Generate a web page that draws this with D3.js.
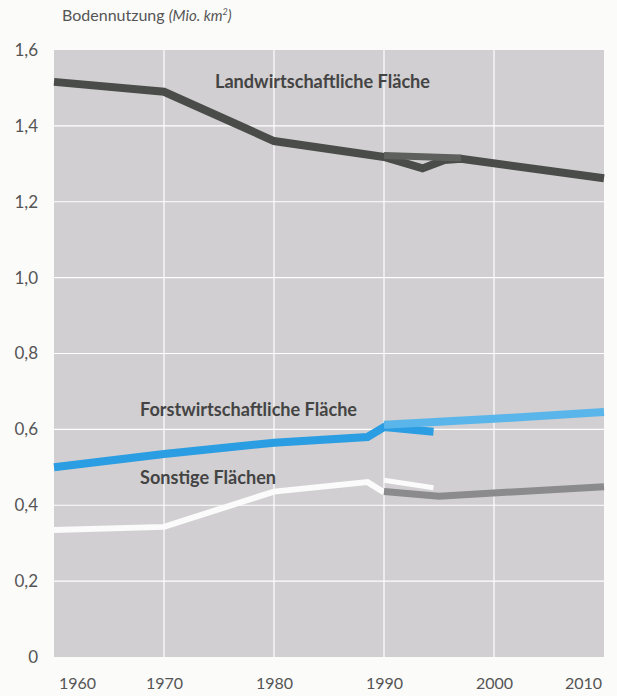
<!DOCTYPE html>
<html><head><meta charset="utf-8">
<script src="https://cdn.jsdelivr.net/npm/d3@7"></script>
<style>
html,body{margin:0;padding:0;background:#fbfbf9;}
svg{display:block;font-family:Lato,"Open Sans",sans-serif;}
</style></head>
<body><svg id="c" width="617" height="696"></svg>
<script>
// ---- data ----
const xTicks = [1960, 1970, 1980, 1990, 2000, 2010];
const yTicks = [0, 0.2, 0.4, 0.6, 0.8, 1.0, 1.2, 1.4, 1.6];

const agriYears  = [1960, 1970, 1980, 1990, 1993.5, 1995.5, 1997, 2010];
const agriValues = [1.516, 1.49, 1.36, 1.318, 1.288, 1.31, 1.313, 1.262];
const agriNewYears  = [1990, 1997];
const agriNewValues = [1.322, 1.315];

const forestYears  = [1960, 1970, 1980, 1988.5, 1990, 1994.5];
const forestValues = [0.50, 0.535, 0.565, 0.58, 0.606, 0.594];
const forestNewYears  = [1990, 2000, 2010];
const forestNewValues = [0.612, 0.628, 0.646];

const otherYears  = [1960, 1970, 1980, 1988.5, 1990];
const otherValues = [0.335, 0.343, 0.436, 0.461, 0.434];
const other2Years  = [1990, 1994.5];
const other2Values = [0.466, 0.446];
const otherNewYears  = [1990, 1995, 2010];
const otherNewValues = [0.436, 0.424, 0.449];

const labels = ["Landwirtschaftliche Fläche", "Forstwirtschaftliche Fläche", "Sonstige Flächen"];

// ---- chart ----
const svg = d3.select("#c");
const x = d3.scaleLinear().domain([1960, 2010]).range([54, 604]);
const y = d3.scaleLinear().domain([0, 1.6]).range([657, 50]);
const fmt = d => d === 0 ? "0" : d3.format(".1f")(d).replace(".", ",");

svg.append("rect").attr("x", x(1960)).attr("y", y(1.6))
  .attr("width", x(2010) - x(1960)).attr("height", y(0) - y(1.6))
  .attr("fill", "#d1cfd1");

// grid
svg.append("g").selectAll("line").data(yTicks.filter(d => d > 0 && d < 1.6)).join("line")
  .attr("x1", x(1960)).attr("x2", x(2010)).attr("y1", d => y(d)).attr("y2", d => y(d))
  .attr("stroke", "#fff").attr("stroke-width", 1.2);
svg.append("g").selectAll("line").data(xTicks.filter(d => d > 1960 && d < 2010)).join("line")
  .attr("y1", y(0)).attr("y2", y(1.6)).attr("x1", d => x(d)).attr("x2", d => x(d))
  .attr("stroke", "#fff").attr("stroke-width", 1.2);

// axes
const yAx = svg.append("g").attr("transform", "translate(38,0)")
  .call(d3.axisLeft(y).tickValues(yTicks).tickFormat(fmt).tickSize(0).tickPadding(0));
yAx.select(".domain").remove();
yAx.selectAll("text").attr("font-size", 17).attr("fill", "#555").attr("font-family", "Lato,sans-serif");

const xAx = svg.append("g").attr("transform", "translate(0,678)")
  .call(d3.axisBottom(x).tickValues(xTicks).tickFormat(d3.format("d")).tickSize(0).tickPadding(0));
xAx.select(".domain").remove();
xAx.selectAll("text").attr("font-size", 16).attr("fill", "#555").attr("font-family", "Lato,sans-serif")
  .attr("dx", d => d === 1960 ? 23 : d === 2010 ? -21 : 0);

// title
const t = svg.append("text").attr("x", 62).attr("y", 21).attr("font-size", 16).attr("fill", "#555");
t.append("tspan").text("Bodennutzung ");
t.append("tspan").attr("font-style", "italic").attr("font-size", 15).text("(Mio. km");
t.append("tspan").attr("font-style", "italic").attr("font-size", 9).attr("dy", -6).text("2");
t.append("tspan").attr("font-style", "italic").attr("font-size", 15).attr("dy", 6).text(")");

// lines
const line = d3.line().x(d => x(d[0])).y(d => y(d[1]));
function draw(years, values, color, w, op) {
  svg.append("path").datum(d3.zip(years, values)).attr("d", line)
    .attr("fill", "none").attr("stroke", color).attr("stroke-width", w)
    .attr("stroke-linejoin", "miter").attr("opacity", op || 1);
}
draw(otherYears, otherValues, "#fbfbfb", 6);
draw(other2Years, other2Values, "#fbfbfb", 5);
draw(otherNewYears, otherNewValues, "#8b8a8c", 7);
draw(forestYears, forestValues, "#2b9de2", 8);
draw(forestNewYears, forestNewValues, "#5ab6ea", 8);
draw(agriYears, agriValues, "#4a4c49", 8);
draw(agriNewYears, agriNewValues, "#5d605c", 7);

// series labels
const lab = [[labels[0], 215, 88], [labels[1], 140, 416], [labels[2], 140, 484]];
svg.append("g").selectAll("text").data(lab).join("text")
  .attr("x", d => d[1]).attr("y", d => d[2]).text(d => d[0])
  .attr("font-size", 18).attr("font-weight", "bold").attr("fill", "#444")
  .attr("textLength", (d, i) => [215, 217, 136][i]).attr("lengthAdjust", "spacingAndGlyphs");
</script></body></html>
